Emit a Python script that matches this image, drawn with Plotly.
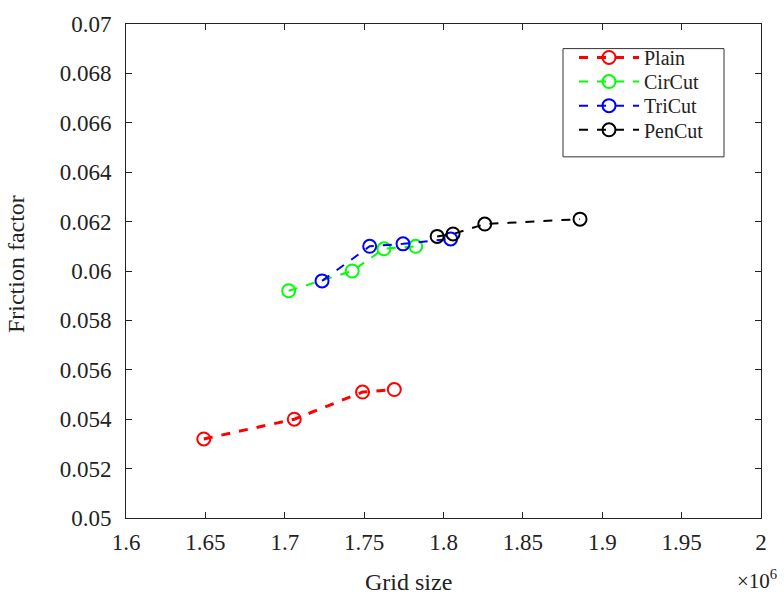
import plotly.graph_objects as go

plain_x = [1.649e6, 1.706e6, 1.749e6, 1.769e6]
plain_y = [0.0532, 0.0540, 0.0551, 0.0552]
circut_x = [1.7025e6, 1.7425e6, 1.7625e6, 1.7825e6]
circut_y = [0.0592, 0.0600, 0.0609, 0.0610]
tricut_x = [1.7235e6, 1.7535e6, 1.7745e6, 1.8045e6]
tricut_y = [0.0596, 0.0610, 0.0611, 0.0613]
pencut_x = [1.796e6, 1.806e6, 1.826e6, 1.886e6]
pencut_y = [0.0614, 0.0615, 0.0619, 0.0621]

x_tickvals = [1.6e6, 1.65e6, 1.7e6, 1.75e6, 1.8e6, 1.85e6, 1.9e6, 1.95e6, 2.0e6]
x_ticktext = ["1.6", "1.65", "1.7", "1.75", "1.8", "1.85", "1.9", "1.95", "2"]
y_tickvals = [0.05, 0.052, 0.054, 0.056, 0.058, 0.06, 0.062, 0.064, 0.066, 0.068, 0.07]
y_ticktext = ["0.05", "0.052", "0.054", "0.056", "0.058", "0.06", "0.062", "0.064", "0.066", "0.068", "0.07"]

series = [
    ("Plain", plain_x, plain_y, "#ff0000", 3),
    ("CirCut", circut_x, circut_y, "#00ff00", 2),
    ("TriCut", tricut_x, tricut_y, "#0000ff", 2),
    ("PenCut", pencut_x, pencut_y, "#000000", 2),
]

# plot area in pixels
L, R, T, B = 126, 761, 16, 518
W, H = 784, 604
def px(xp):
    return (xp - L) / (R - L)
def py(yp):
    return (B - yp) / (B - T)

font = "Liberation Serif"
fig = go.Figure()
legend_rows = [50, 74.5, 99, 123.5]
legend_names = ["legend", "legend2", "legend3", "legend4"]
for i, (name, xs, ys, color, lw) in enumerate(series):
    fig.add_trace(go.Scatter(
        x=xs, y=ys, name=name, mode="lines+markers", legend=legend_names[i],
        line=dict(color=color, width=lw, dash="dash"),
        marker=dict(symbol="circle-open", size=13, color=color, line=dict(width=2, color=color)),
    ))

legend_cfg = {}
for i, ln in enumerate(legend_names):
    legend_cfg[ln] = dict(
        x=px(574), y=py(legend_rows[i]), xanchor="left", yanchor="middle",
        bgcolor="rgba(0,0,0,0)", borderwidth=0,
        font=dict(family=font, size=20, color="#222"), itemwidth=60,
    )

tickfont = dict(family=font, size=23, color="#222")
fig.update_layout(
    width=W, height=604,
    margin=dict(l=L, r=W - R, t=T, b=H - B),
    paper_bgcolor="white", plot_bgcolor="white",
    font=dict(family=font, size=23, color="#222"),
    showlegend=True,
    xaxis=dict(
        range=[1.6e6, 2.0e6], tickvals=x_tickvals, ticktext=x_ticktext,
        showgrid=False, zeroline=False, tickfont=tickfont,
        showline=True, linecolor="#222", linewidth=1, mirror="ticks",
        ticks="inside", ticklen=6, tickcolor="#222", ticklabelstandoff=3,
    ),
    yaxis=dict(
        range=[0.05, 0.07], tickvals=y_tickvals, ticktext=y_ticktext,
        showgrid=False, zeroline=False, tickfont=tickfont,
        showline=True, linecolor="#222", linewidth=1, mirror="ticks",
        ticks="inside", ticklen=6, tickcolor="#222", ticklabelstandoff=9,
    ),
    **legend_cfg,
)
# legend box
fig.add_shape(type="rect", xref="paper", yref="paper",
              x0=px(563), x1=px(724), y0=py(151), y1=py(41),
              line=dict(color="#333", width=1), fillcolor="white", layer="above")
# axis titles
fig.add_annotation(text="Grid size", xref="paper", yref="paper", x=px(408), y=py(583),
                   xanchor="center", yanchor="middle", showarrow=False,
                   font=dict(family=font, size=24, color="#222"))
fig.add_annotation(text="Friction factor", xref="paper", yref="paper", x=px(16), y=py(260),
                   xanchor="center", yanchor="middle", showarrow=False, textangle=-90,
                   font=dict(family=font, size=24, color="#222"))
fig.add_annotation(text="×10<sup>6</sup>", xref="paper", yref="paper", x=px(757), y=py(581),
                   xanchor="center", yanchor="middle", showarrow=False,
                   font=dict(family=font, size=21, color="#222"))
fig.write_html("out.html")
